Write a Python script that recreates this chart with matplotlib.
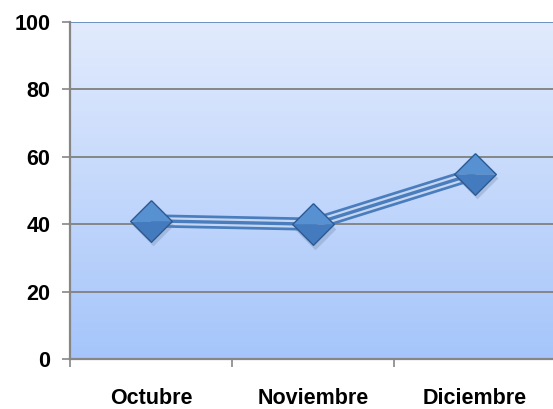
import numpy as np
import matplotlib.pyplot as plt
from matplotlib import font_manager

# Data
months = ['Octubre', 'Noviembre', 'Diciembre']
values = [41, 40, 55]
y_ticks = [0, 20, 40, 60, 80, 100]

names = {f.name for f in font_manager.fontManager.ttflist}
if 'Liberation Sans Narrow' in names:
    plt.rcParams['font.family'] = ['Liberation Sans Narrow', 'DejaVu Sans']
    fs = 17
else:
    plt.rcParams['font.family'] = ['Liberation Sans', 'DejaVu Sans']
    fs = 15.5

fig = plt.figure(figsize=(5.53, 4.09), dpi=100)
# plot area runs off the right edge of the picture
ax = fig.add_axes([70 / 553, 50 / 409, 486 / 553, 337 / 409])

x = np.arange(1, len(months) + 1)
ax.set_xlim(0.5, 3.5)
ax.set_ylim(0, 100)

# gradient background
grad = np.linspace(0, 1, 256).reshape(-1, 1)
top = np.array([226, 235, 253]) / 255
bot = np.array([165, 197, 250]) / 255
img = top * (1 - grad[..., None]) + bot * grad[..., None]
ax.imshow(img, extent=(0.5, 3.5, 0, 100), aspect='auto', origin='upper', zorder=0)

# gridlines
for yv in y_ticks[1:]:
    ax.axhline(yv, color='#868686', lw=1.4, zorder=1)
ax.axhline(100, color='#6f93c4', lw=1.4, zorder=1)

# compound (triple) line
ax.plot(x, values, color='#4a7dbd', lw=9.5, solid_capstyle='butt', zorder=2)
ax.plot(x, values, color='#c4d6f2', lw=5.6, solid_capstyle='butt', zorder=3)
ax.plot(x, values, color='#4a7dbd', lw=2.4, solid_capstyle='butt', zorder=4)

# diamond markers with a bevelled look
diamond = [(0, 1), (1, 0), (0, -1), (-1, 0), (0, 1)]
upper = [(-1, 0), (0, 1), (1, 0), (0, -1e-9), (-1, 0)]
lower = [(-1, 0), (0, -1), (1, 0), (0, 1e-9), (-1, 0)]
ms = 30
ax.plot(x + 0.01, np.array(values) - 1.3, ls='none', marker=diamond, ms=ms,
        mfc='#6b7fa0', mec='none', alpha=0.3, zorder=5)
ax.plot(x, values, ls='none', marker=upper, ms=ms, mfc='#5891d2',
        mec='none', zorder=7)
ax.plot(x, values, ls='none', marker=lower, ms=ms, mfc='#437bbe',
        mec='none', zorder=7)
ax.plot(x, values, ls='none', marker=diamond, ms=ms, mfc='none',
        mec='#2d5a92', mew=1.0, zorder=8)

# axes styling
for s in ['top', 'right']:
    ax.spines[s].set_visible(False)
for s in ['left', 'bottom']:
    ax.spines[s].set_color('#868686')
    ax.spines[s].set_linewidth(1.6)
    ax.spines[s].set_zorder(9)

ax.set_yticks(y_ticks)
ax.set_yticklabels([str(v) for v in y_ticks], fontsize=fs, fontweight='bold')
ax.tick_params(axis='y', length=6, width=1.2, color='#868686', pad=8)

ax.set_xticks([0.5, 1.5, 2.5, 3.5])
ax.set_xticklabels([])
ax.tick_params(axis='x', which='major', length=6, width=1.2, color='#868686')
ax.set_xticks(x, minor=True)
ax.set_xticklabels(months, minor=True, fontsize=fs, fontweight='bold')
ax.tick_params(axis='x', which='minor', length=0, pad=21)

fig.savefig('out.png', dpi=100)
